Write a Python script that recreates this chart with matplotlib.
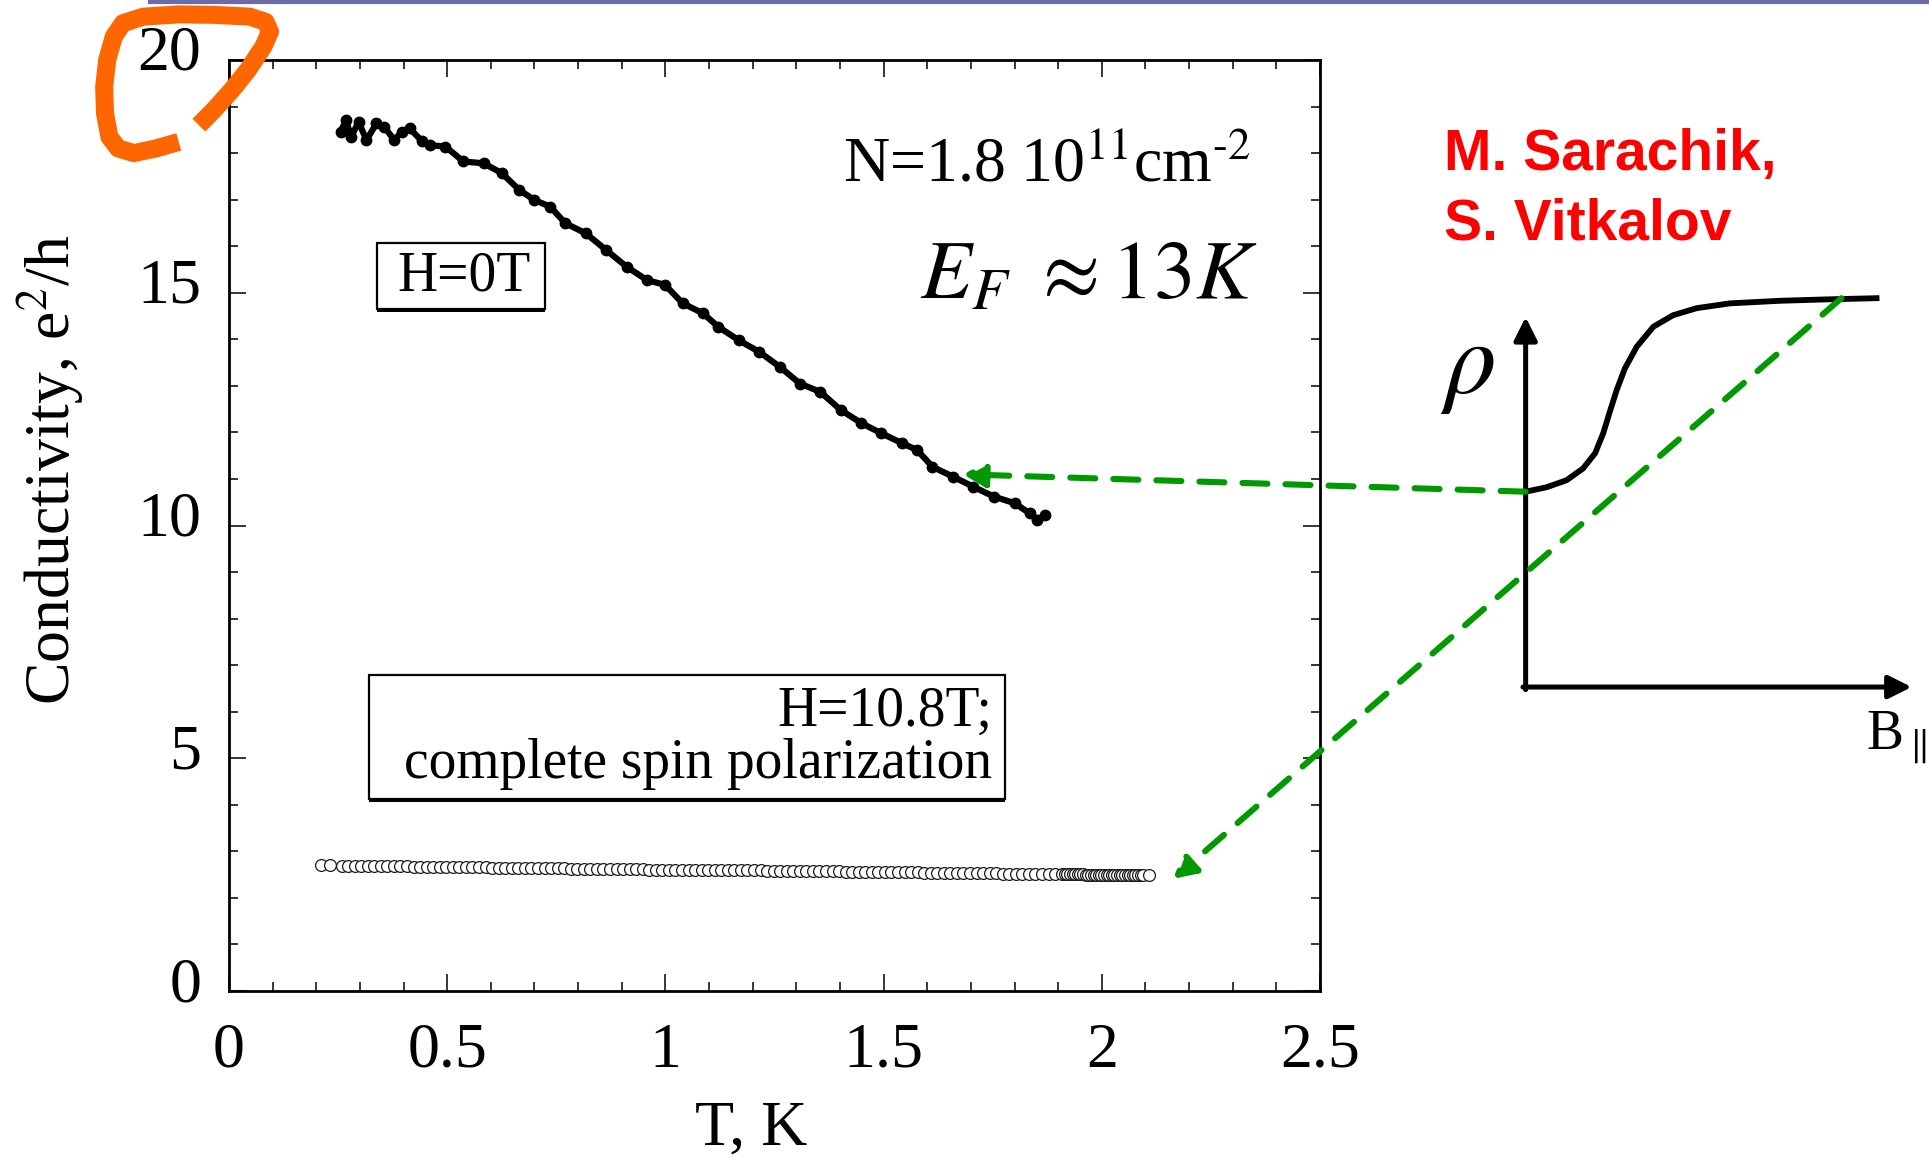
import matplotlib
matplotlib.use("Agg")
import matplotlib.pyplot as plt
from matplotlib import patheffects as pe
from matplotlib import transforms as mtransforms
from matplotlib.lines import Line2D
from matplotlib.patches import Rectangle
from matplotlib.ticker import MultipleLocator, FuncFormatter

plt.rcParams["font.family"] = ["Liberation Serif", "DejaVu Serif"]
plt.rcParams["mathtext.fontset"] = "stix"
plt.rcParams["lines.scale_dashes"] = False

# conductivity at H = 0 T
t_zero = [0.256, 0.268, 0.280, 0.297, 0.315, 0.338, 0.355, 0.379, 0.396, 0.414,
          0.443, 0.461, 0.496, 0.537, 0.584, 0.625, 0.665, 0.700, 0.736, 0.771,
          0.817, 0.864, 0.911, 0.958, 0.999, 1.040, 1.086, 1.121, 1.168, 1.215,
          1.262, 1.308, 1.355, 1.402, 1.449, 1.495, 1.542, 1.577, 1.612, 1.659,
          1.706, 1.753, 1.800, 1.835, 1.852, 1.870]
sigma_zero = [18.46, 18.71, 18.35, 18.67, 18.28, 18.64, 18.57, 18.28, 18.46, 18.53,
              18.25, 18.17, 18.14, 17.82, 17.78, 17.57, 17.21, 16.99, 16.85, 16.49,
              16.28, 15.92, 15.56, 15.27, 15.17, 14.77, 14.56, 14.27, 13.98, 13.73,
              13.41, 13.05, 12.87, 12.48, 12.20, 11.98, 11.77, 11.62, 11.26, 11.05,
              10.83, 10.62, 10.48, 10.26, 10.12, 10.23]

# conductivity at H = 10.8 T (full spin polarization)
t_pol = [0.212, 0.231,
         0.258, 0.273, 0.288, 0.303, 0.318, 0.333, 0.348, 0.363, 0.378, 0.393,
         0.408, 0.423, 0.438, 0.453, 0.468, 0.483, 0.498, 0.513, 0.528, 0.543,
         0.558, 0.573, 0.588, 0.603, 0.618, 0.633, 0.648, 0.663, 0.678, 0.693,
         0.708, 0.723, 0.738, 0.753, 0.768, 0.783, 0.798, 0.813, 0.828, 0.843,
         0.858, 0.873, 0.888, 0.903, 0.918, 0.933, 0.948, 0.963, 0.978, 0.993,
         1.008, 1.023, 1.038, 1.053, 1.068, 1.083, 1.098, 1.113, 1.128, 1.143,
         1.158, 1.173, 1.188, 1.203, 1.218, 1.233, 1.248, 1.263, 1.278, 1.293,
         1.308, 1.323, 1.338, 1.353, 1.368, 1.383, 1.398, 1.413, 1.428, 1.443,
         1.458, 1.473, 1.488, 1.503, 1.518, 1.533, 1.548, 1.563, 1.578, 1.593,
         1.608, 1.623, 1.638, 1.653, 1.668, 1.683, 1.698, 1.713, 1.728, 1.743,
         1.758, 1.773, 1.788, 1.803, 1.818, 1.833, 1.848, 1.863, 1.878, 1.893,
         1.908,
         1.915, 1.921, 1.927, 1.933, 1.939, 1.945, 1.951, 1.957, 1.963, 1.969,
         1.975, 1.981, 1.987, 1.993, 1.999, 2.005, 2.011, 2.017, 2.023, 2.029,
         2.035, 2.041, 2.047, 2.053, 2.059, 2.065, 2.071, 2.077, 2.083, 2.089,
         2.095, 2.107]
sigma_pol = [2.70, 2.70,
             2.69, 2.69, 2.69, 2.69, 2.69, 2.68, 2.68, 2.68, 2.68, 2.68,
             2.68, 2.67, 2.67, 2.67, 2.67, 2.67, 2.67, 2.66, 2.66, 2.66,
             2.66, 2.66, 2.66, 2.65, 2.65, 2.65, 2.65, 2.65, 2.65, 2.64,
             2.64, 2.64, 2.64, 2.64, 2.64, 2.63, 2.63, 2.63, 2.63, 2.63,
             2.63, 2.62, 2.62, 2.62, 2.62, 2.62, 2.62, 2.61, 2.61, 2.61,
             2.61, 2.61, 2.61, 2.60, 2.60, 2.60, 2.60, 2.60, 2.60, 2.59,
             2.59, 2.59, 2.59, 2.59, 2.59, 2.58, 2.58, 2.58, 2.58, 2.58,
             2.58, 2.57, 2.57, 2.57, 2.57, 2.57, 2.57, 2.56, 2.56, 2.56,
             2.56, 2.56, 2.56, 2.55, 2.55, 2.55, 2.55, 2.55, 2.55, 2.54,
             2.54, 2.54, 2.54, 2.54, 2.54, 2.53, 2.53, 2.53, 2.53, 2.53,
             2.53, 2.52, 2.52, 2.52, 2.52, 2.52, 2.52, 2.51, 2.51, 2.51,
             2.51,
             2.51, 2.51, 2.51, 2.51, 2.51, 2.51, 2.51, 2.51, 2.50, 2.50,
             2.50, 2.50, 2.50, 2.50, 2.50, 2.50, 2.50, 2.50, 2.50, 2.50,
             2.50, 2.50, 2.49, 2.49, 2.49, 2.49, 2.49, 2.49, 2.49, 2.49,
             2.49, 2.49]

# schematic rho(B_parallel), arbitrary units
b_sketch = [0.0, 0.054, 0.106, 0.149, 0.180, 0.201, 0.218, 0.236, 0.257, 0.288,
            0.331, 0.382, 0.443, 0.529, 0.659, 0.788, 0.909]
rho_sketch = [0.528, 0.540, 0.559, 0.591, 0.632, 0.686, 0.744, 0.803, 0.861, 0.920,
              0.974, 1.005, 1.024, 1.037, 1.044, 1.048, 1.051]

# hand-drawn marker around the top tick label (main axes data units)
mark_t = [-0.069, -0.034, 0.007, 0.043, 0.079, 0.094, 0.084, 0.048, -0.034, -0.115,
          -0.197, -0.243, -0.264, -0.279, -0.286, -0.284, -0.274, -0.254, -0.218,
          -0.167, -0.115]
mark_s = [18.60, 18.93, 19.36, 19.78, 20.29, 20.61, 20.82, 20.93, 20.97, 20.98,
          20.93, 20.79, 20.50, 20.00, 19.43, 18.85, 18.35, 18.10, 18.00, 18.10, 18.24]

green = "#009a00"

fig = plt.figure(figsize=(19.29, 11.58), dpi=100)
ax = fig.add_axes([0.1187, 0.1442, 0.5656, 0.8040])

ax.plot(t_zero, sigma_zero, "-o", color="black", lw=4.5, ms=7.5, zorder=3)
ax.plot(t_pol, sigma_pol, "o", ms=8.5, mfc="white", mec="#1a1a1a", mew=0.9, zorder=3)

ax.set_xlim(0, 2.5)
ax.set_ylim(0, 20)
ax.xaxis.set_major_locator(MultipleLocator(0.5))
ax.xaxis.set_minor_locator(MultipleLocator(0.1))
ax.yaxis.set_major_locator(MultipleLocator(5))
ax.yaxis.set_minor_locator(MultipleLocator(1))
fmt = FuncFormatter(lambda v, p: "%g" % v)
ax.xaxis.set_major_formatter(fmt)
ax.yaxis.set_major_formatter(fmt)
ax.tick_params(which="both", direction="in", top=True, right=True, width=1.1,
               labelsize=46)
ax.tick_params(which="major", length=12.5)
ax.tick_params(which="minor", length=6.5)
ax.tick_params(axis="x", pad=23)
ax.tick_params(axis="y", pad=20)
for sp in ax.spines.values():
    sp.set_linewidth(2)

# y tick labels sit a little above their ticks
lift = mtransforms.ScaledTranslation(0, 12 / 100, fig.dpi_scale_trans)
for lab in ax.get_yticklabels():
    lab.set_transform(lab.get_transform() + lift)

ax.set_xlabel("T, K", fontsize=46)
ax.xaxis.set_label_coords(0.479, -0.118)
ax.set_ylabel("Conductivity, e$^{2}$/h", fontsize=46)
ax.yaxis.set_label_coords(-0.131, 0.56)

ax.text(0.563, 0.869, r"N=1.8 10$^{11}$cm$^{\text{-2}}$", transform=ax.transAxes,
        fontsize=46, va="baseline")
ax.text(0.633, 0.743, r"$E_F\ \approx 13K$", transform=ax.transAxes,
        fontsize=60, va="baseline")

shadow = [pe.SimplePatchShadow(offset=(0, -2), shadow_rgbFace="black", alpha=1),
          pe.Normal()]
ax.add_patch(Rectangle((0.1354, 0.7326), 0.1542, 0.0712, transform=ax.transAxes,
                       fc="white", ec="black", lw=1.6, path_effects=shadow, zorder=4))
ax.text(0.2154, 0.7519, "H=0T", transform=ax.transAxes, fontsize=40,
        ha="center", va="baseline", zorder=5)
ax.add_patch(Rectangle((0.1283, 0.2062), 0.5830, 0.1332, transform=ax.transAxes,
                       fc="white", ec="black", lw=1.6, path_effects=shadow, zorder=4))
ax.text(0.6993, 0.2846, "H=10.8T;", transform=ax.transAxes, fontsize=40,
        ha="right", va="baseline", zorder=5)
ax.text(0.6993, 0.2288, "complete spin polarization", transform=ax.transAxes,
        fontsize=40, ha="right", va="baseline", zorder=5)

ax.plot(mark_t, mark_s, color="#ff6600", lw=13, clip_on=False,
        solid_capstyle="butt", solid_joinstyle="round", zorder=6)

# inset sketch of rho vs parallel field
ax_in = fig.add_axes([0.7909, 0.4067, 0.2001, 0.3195])
ax_in.set_xlim(0, 1)
ax_in.set_ylim(0, 1)
ax_in.axis("off")
axis_arrow = dict(arrowstyle="-|>,head_length=0.7,head_width=0.35", color="black",
                  lw=3.6, shrinkA=0, shrinkB=0, mutation_scale=20)
ax_in.annotate("", xy=(1, 0), xytext=(-0.007, 0), arrowprops=axis_arrow)
ax_in.annotate("", xy=(0, 1), xytext=(0, -0.007), arrowprops=axis_arrow)
ax_in.plot(b_sketch, rho_sketch, color="black", lw=4.2, clip_on=False)
ax_in.text(-0.15, 0.86, r"$\rho$", fontsize=74, ha="center", va="center")
ax_in.text(0.882, -0.169, r"B$_{\parallel}$", fontsize=40, ha="left", va="baseline")

green_arrow = dict(arrowstyle="-|>,head_length=0.65,head_width=0.36", color=green,
                   lw=4.4, linestyle=(0, (18, 13)), shrinkA=0, shrinkB=0,
                   mutation_scale=20)
ax_in.annotate("", xy=(1.682, 11.1), xycoords=ax.transData,
               xytext=(b_sketch[0], rho_sketch[0]), textcoords="data",
               arrowprops=green_arrow)
ax_in.annotate("", xy=(2.164, 2.41), xycoords=ax.transData,
               xytext=(0.818, rho_sketch[-1]), textcoords="data",
               arrowprops=green_arrow)

fig.text(0.7486, 0.8532, "M. Sarachik,", color="red", fontsize=41,
         fontweight="bold", family="Liberation Sans")
fig.text(0.7486, 0.7936, "S. Vitkalov", color="red", fontsize=41,
         fontweight="bold", family="Liberation Sans")

fig.add_artist(Line2D([150 / 1929, 1], [0.9985, 0.9985], transform=fig.transFigure,
                      color="#6b6ba6", lw=3))

fig.savefig("out.png", dpi=100)
